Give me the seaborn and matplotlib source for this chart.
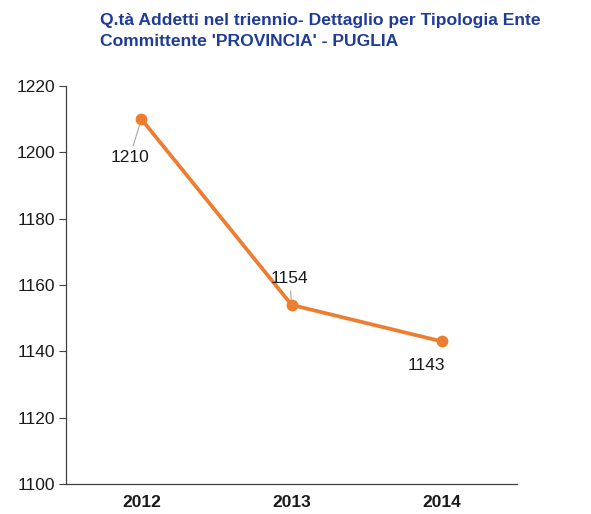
import matplotlib
matplotlib.use('Agg')
import matplotlib.pyplot as plt
import numpy as np
import pandas as pd
import seaborn as sns

years = ['2012', '2013', '2014']
addetti = [1210, 1154, 1143]
# label offsets in points, and whether a leader line is drawn
label_offsets = [(-8.5, -28), (-1.5, 19), (-11, -17.5)]
leader = [True, True, False]

sns.set_style('white')
plt.rcParams['font.family'] = ['Liberation Sans', 'DejaVu Sans']

df = pd.DataFrame({'pos': np.arange(len(years)), 'addetti': addetti})

fig = plt.figure(figsize=(5.91, 5.14), dpi=100)
ax = fig.add_axes([0.112, 0.058, 0.763, 0.775])

sns.lineplot(data=df, x='pos', y='addetti', ax=ax, color='#ED7D31',
             linewidth=2.7, marker='o', markersize=8.5, markeredgewidth=0)

for x, y, off, lead in zip(df['pos'], df['addetti'], label_offsets, leader):
    arrow = dict(arrowstyle='-', color='#a6a6a6', lw=0.8, shrinkA=1, shrinkB=4) if lead else None
    ax.annotate(str(y), xy=(x, y), xytext=off, textcoords='offset points',
                ha='center', va='center', fontsize=12.5, color='#1a1a1a',
                arrowprops=arrow)

ax.set_xlim(-0.5, len(years) - 0.5)
ax.set_ylim(1100, 1220)
ax.set_yticks(range(1100, 1221, 20))
ax.set_xticks(df['pos'])
ax.set_xticklabels(years, fontsize=12.5, fontweight='bold', color='#1a1a1a')
ax.set_xticks(np.arange(-0.5, len(years), 1), minor=True)
ax.tick_params(axis='x', which='major', length=0, pad=8)
ax.tick_params(axis='x', which='minor', length=5, width=0.8, color='#404040', direction='out')
ax.tick_params(axis='y', length=5, width=0.8, color='#404040', direction='out',
               labelsize=12.5, labelcolor='#1a1a1a', left=True, pad=3)
ax.set_xlabel('')
ax.set_ylabel('')

for side in ['top', 'right']:
    ax.spines[side].set_visible(False)
for side in ['left', 'bottom']:
    ax.spines[side].set_color('#404040')
    ax.spines[side].set_linewidth(0.9)

fig.text(0.17, 0.974, "Q.tà Addetti nel triennio- Dettaglio per Tipologia Ente\nCommittente 'PROVINCIA' - PUGLIA",
         fontsize=12.6, fontweight='bold', color='#1F3C99', va='top', ha='left',
         linespacing=1.45)

fig.savefig('out.png', dpi=100)
